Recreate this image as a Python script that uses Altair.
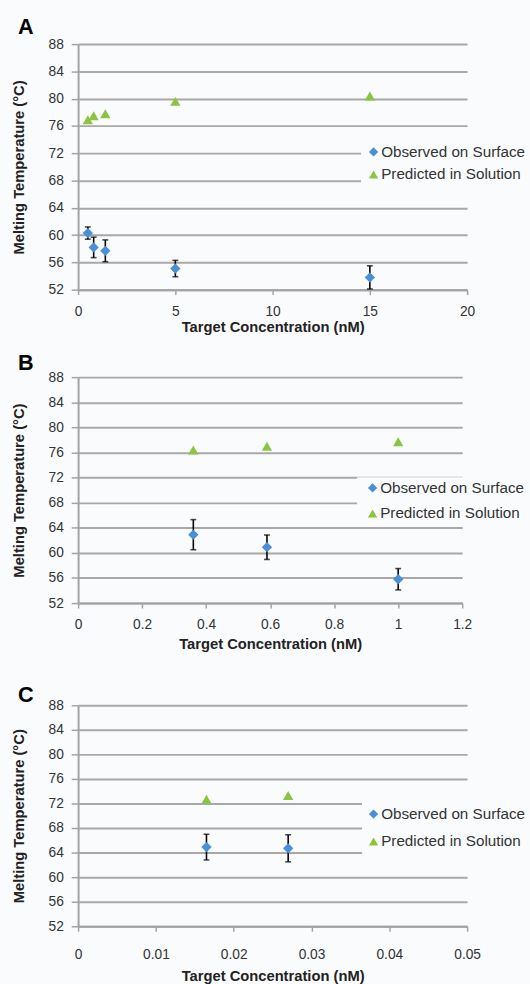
import altair as alt
import pandas as pd

BG = "#fafbfd"
BLUE = "#4a8fd8"
GREEN = "#8cc43f"
SERIES = ["Observed on Surface", "Predicted in Solution"]

# Panel A
A_x = [0.5, 0.8, 1.4, 5, 15]
A_obs = [60.3, 58.2, 57.7, 55.1, 53.8]
A_err = [0.9, 1.5, 1.6, 1.2, 1.7]
A_pred = [76.9, 77.5, 77.8, 79.6, 80.4]
A_xticks = [0, 5, 10, 15, 20]

# Panel B
B_x = [0.36, 0.59, 1.0]
B_obs = [62.9, 60.9, 55.8]
B_err = [2.4, 1.95, 1.7]
B_pred = [76.4, 77.0, 77.7]
B_xticks = [0, 0.2, 0.4, 0.6, 0.8, 1.0, 1.2]

# Panel C
C_x = [0.0165, 0.027]
C_obs = [64.9, 64.7]
C_err = [2.1, 2.2]
C_pred = [72.7, 73.3]
C_xticks = [0, 0.01, 0.02, 0.03, 0.04, 0.05]

Y_TICKS = [52, 56, 60, 64, 68, 72, 76, 80, 84, 88]
X_TITLE = "Target Concentration (nM)"
Y_TITLE = "Melting Temperature (°C)"


def panel(xs, obs, err, pred, xticks, letter, w, h, leg_x, leg_y, leg_pad, sym_off,
          rowpad, xlabelpad, xtitlepad, title_off):
    obs_df = pd.DataFrame({"x": xs, "y": obs, "err": err, "series": SERIES[0]})
    pred_df = pd.DataFrame({"x": xs, "y": pred, "err": 0.0, "series": SERIES[1]})
    pts = pd.concat([obs_df, pred_df], ignore_index=True)

    xscale = alt.Scale(domain=[xticks[0], xticks[-1]], nice=False)
    yscale = alt.Scale(domain=[52, 88], nice=False)
    xaxis = alt.Axis(values=xticks, format="~g", title=X_TITLE, grid=False,
                     labelFlush=False, labelPadding=xlabelpad, titlePadding=xtitlepad)
    yaxis = alt.Axis(values=Y_TICKS, title=Y_TITLE, grid=True, labelOverlap=False)

    xenc = alt.X("x:Q", scale=xscale, axis=xaxis)

    base_err = alt.Chart(obs_df).transform_calculate(
        lo="datum.y - datum.err", hi="datum.y + datum.err")
    bars = base_err.mark_rule(color="black", strokeWidth=1.6).encode(
        x=xenc, y=alt.Y("lo:Q", scale=yscale, axis=yaxis), y2="hi:Q")
    cap_lo = base_err.mark_tick(color="black", orient="horizontal", size=6, thickness=1.6).encode(
        x=xenc, y=alt.Y("lo:Q", scale=yscale, axis=yaxis))
    cap_hi = base_err.mark_tick(color="black", orient="horizontal", size=6, thickness=1.6).encode(
        x=xenc, y=alt.Y("hi:Q", scale=yscale, axis=yaxis))

    leg = alt.Legend(orient="none", legendX=leg_x, legendY=leg_y, title=None,
                     fillColor=BG, padding=leg_pad, labelFontSize=15.5, labelColor="#333333",
                     labelFont="Liberation Sans", symbolSize=90, symbolStrokeWidth=0,
                     symbolOffset=sym_off, rowPadding=rowpad, labelOffset=0)
    points = alt.Chart(pts).mark_point(filled=True, size=110, opacity=1).encode(
        x=xenc,
        y=alt.Y("y:Q", scale=yscale, axis=yaxis),
        color=alt.Color("series:N", scale=alt.Scale(domain=SERIES, range=[BLUE, GREEN]), legend=leg),
        shape=alt.Shape("series:N", scale=alt.Scale(domain=SERIES, range=["diamond", "triangle-up"]), legend=leg),
    )
    return alt.layer(bars, cap_lo, cap_hi, points).properties(
        width=w, height=h,
        title=alt.TitleParams(letter, anchor="start", frame="bounds", fontSize=22,
                              fontWeight="bold", font="Liberation Sans", color="black",
                              offset=title_off, dx=6),
    )


pA = panel(A_x, A_obs, A_err, A_pred, A_xticks, "A", 396, 250, 288, 97, 5, 0, 6, 10, 2, -2)
pB = panel(B_x, B_obs, B_err, B_pred, B_xticks, "B", 391, 230, 284, 102, 3, 5, 9, 10, 5, -5)
pC = panel(C_x, C_obs, C_err, C_pred, C_xticks, "C", 396, 225, 289, 99, 4, 0, 11, 17, 7, -9)

top = alt.vconcat(pA, pB, spacing=18).resolve_scale(
    color="independent", shape="independent").resolve_legend(
    color="independent", shape="independent")

chart = alt.vconcat(top, pC, spacing=34).resolve_scale(
    color="independent", shape="independent").resolve_legend(
    color="independent", shape="independent").configure(
    background=BG, padding={"left": 11.5, "top": 8, "right": 0, "bottom": 0}
).configure_view(stroke=None).configure_axis(
    labelFont="Liberation Sans", titleFont="Liberation Sans",
    labelColor="#333333", titleColor="#222222",
    titleFontSize=15, titleFontWeight="bold",
    domainColor="#a3a3a3", domainWidth=2, tickColor="#a3a3a3", tickWidth=1.5,
    gridColor="#a8a8a8", gridWidth=2,
).configure_axisX(
    labelFontSize=14, tickSize=5,
).configure_axisY(
    labelFontSize=14, tickSize=7, labelPadding=8, titlePadding=21.5,
)

chart.save("out.html", embed_options={"renderer": "svg", "actions": False})
